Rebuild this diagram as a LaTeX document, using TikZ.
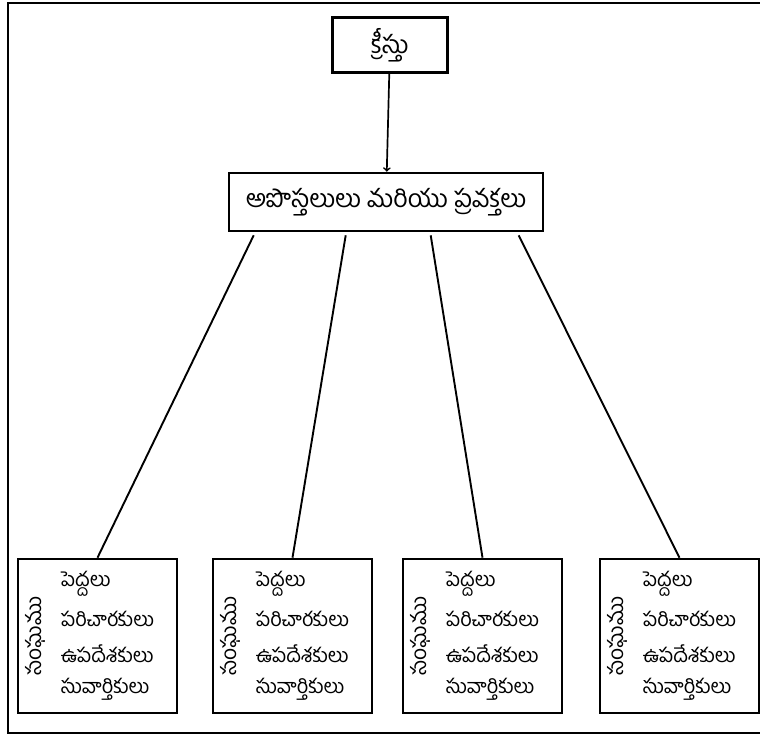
\documentclass[tikz,border=0pt]{standalone}
\usepackage{fontspec}
\newfontfamily\telugu[Script=Telugu]{Hind Guntur}
\usetikzlibrary{arrows, positioning, calc}
\tikzstyle{box} = [rectangle, line width = 2.6, draw = black, text centered,
  font = \telugu]
\tikzstyle{church} = [
  rectangle, line width = 2.6,
  minimum width = 159, minimum height = 154,
  draw = black
]
\tikzstyle{item} = [anchor = west, inner sep = 0, font = \telugu\fontsize{20}{22}\selectfont]

\begin{document}
\begin{tikzpicture}[x = 1pt, y = -1pt]
    \useasboundingbox (0, 0) rectangle (760, 739);
    \clip (0, 0) rectangle (760, 739);
    \draw [line width = 2.8] (770, 3) -- (8, 3) -- (8, 733) -- (770, 733);

    \node [box, minimum width = 115, minimum height = 55,
      font = \telugu\fontsize{25}{27}\selectfont] (christ) at (390, 45) {క్రీస్తు};
    \node [box, minimum width = 314, minimum height = 58,
      font = \telugu\fontsize{25}{27}\selectfont] (apostles) at (386, 202)
      {అపొస్తలులు మరియు ప్రవక్తలు};

    \draw [->, line width = 1.7] (christ) -- (apostles);

    \foreach \i/\x in {1/97.5, 2/292.5, 3/482.5, 4/679.5} {
      \node [church] (church-\i) at (\x, 636) {};
      \node [rotate = 90, inner sep = 0, font = \telugu\fontsize{21}{22}\selectfont]
        (name-\i) at ([xshift = 19] church-\i.west) {సంఘము};
      \node [item] (elders-\i) at ([xshift = 44, yshift = 52] church-\i.west) {పెద్దలు};
      \node [item] (deacons-\i) at ([xshift = 44, yshift = 17] church-\i.west) {పరిచారకులు};
      \node [item] (teachers-\i) at ([xshift = 44, yshift = -18] church-\i.west) {ఉపదేశకులు};
      \node [item] (evang-\i) at ([xshift = 44, yshift = -53] church-\i.west) {సువార్తికులు};
    }

    % lines down to the churches
    \coordinate (from-1) at ([xshift = 26, yshift = -3] apostles.south west);
    \coordinate (from-2) at ([xshift = 118, yshift = -3] apostles.south west);
    \coordinate (from-3) at ([xshift = 203, yshift = -3] apostles.south west);
    \coordinate (from-4) at ([xshift = 291, yshift = -3] apostles.south west);
    \foreach \i in {1, ..., 4}
      \draw [line width = 1.9] (from-\i) -- (church-\i.north);
\end{tikzpicture}
\end{document}
